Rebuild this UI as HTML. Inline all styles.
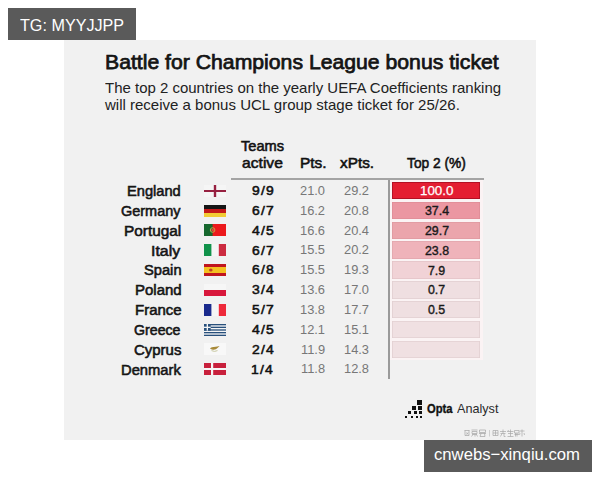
<!DOCTYPE html>
<html><head><meta charset="utf-8">
<style>
*{margin:0;padding:0;box-sizing:border-box}
html,body{width:600px;height:480px;background:#fff;overflow:hidden;font-family:"Liberation Sans",sans-serif}
.t{position:absolute;white-space:nowrap;line-height:1;transform-origin:0 0}
.box{position:absolute;background:#5a5a5a}
#photo{position:absolute;left:64px;top:40px;width:472px;height:400px;background:#f1f1f1}
.bar{position:absolute;left:392px;width:88.4px;height:17.5px;box-shadow:inset 0 0 0 0.8px rgba(60,0,10,.07)}
.flag{position:absolute;left:204px;width:22px;height:12px}
.sq{position:absolute;background:#111}
</style></head><body>
<div id="photo"></div>
<div class="box" style="left:8px;top:8px;width:128px;height:32px"></div>
<div class="box" style="left:424px;top:440px;width:168px;height:32px"></div>
<!-- rules -->
<div style="position:absolute;left:230.5px;top:178px;width:253px;height:2px;background:#a4a4a4"></div>
<div style="position:absolute;left:388px;top:180px;width:1.8px;height:199px;background:#9a9a9a"></div>
<!-- bars -->
<div style="position:absolute;left:390px;top:180px;width:93px;height:179.5px;background:#fbf3f4"></div>
<div class="bar" style="top:181.90px;background:#e41e32;box-shadow:inset 0 0 0 0.9px rgba(120,0,20,.45)"></div>
<div class="bar" style="top:201.74px;background:#eb97a2"></div>
<div class="bar" style="top:221.58px;background:#eba5ac"></div>
<div class="bar" style="top:241.42px;background:#efb3ba"></div>
<div class="bar" style="top:261.26px;background:#f1d2d6"></div>
<div class="bar" style="top:281.10px;background:#efdfe1"></div>
<div class="bar" style="top:300.94px;background:#efdfe1"></div>
<div class="bar" style="top:320.78px;background:#f0e0e2"></div>
<div class="bar" style="top:340.62px;background:#f0e0e2"></div>
<!-- flags -->
<svg class="flag" style="top:184.75px" viewBox="0 0 22 12"><rect width="22" height="12" fill="#f5f5f5"/><rect x="0" y="5" width="22" height="2" fill="#962040"/><rect x="9.8" y="0" width="2.4" height="12" fill="#962040"/></svg>
<svg class="flag" style="top:204.6px" viewBox="0 0 22 12"><rect width="22" height="4" fill="#151515"/><rect y="4" width="22" height="4" fill="#c41818"/><rect y="8" width="22" height="4" fill="#f2cc34"/></svg>
<svg class="flag" style="top:224.4px" viewBox="0 0 22 12"><rect width="22" height="12" fill="#ec1a1c"/><rect width="8.6" height="12" fill="#17682e"/><circle cx="8.6" cy="6" r="2.3" fill="none" stroke="#c8b048" stroke-width="0.9"/><circle cx="8.6" cy="6" r="1.3" fill="#d84a3a"/></svg>
<svg class="flag" style="top:244.2px" viewBox="0 0 22 12"><rect width="22" height="12" fill="#f5f5f5"/><rect width="7.4" height="12" fill="#11924a"/><rect x="14.8" width="7.2" height="12" fill="#cc2c40"/></svg>
<svg class="flag" style="top:264px" viewBox="0 0 22 12"><rect width="22" height="12" fill="#c0141e"/><rect y="3" width="22" height="6" fill="#f4c020"/><ellipse cx="6.8" cy="6" rx="1.8" ry="1.6" fill="#c04020"/></svg>
<svg class="flag" style="top:283.9px" viewBox="0 0 22 12"><rect width="22" height="6" fill="#f6f6f6"/><rect y="6" width="22" height="6" fill="#d8183c"/></svg>
<svg class="flag" style="top:303.7px" viewBox="0 0 22 12"><rect width="22" height="12" fill="#f5f5f5"/><rect width="7.4" height="12" fill="#1a2a8c"/><rect x="14.8" width="7.2" height="12" fill="#ee2a3a"/></svg>
<svg class="flag" style="top:323.5px" viewBox="0 0 22 12"><rect width="22" height="12" fill="#f5f5f5"/><g fill="#28507c"><rect y="0" width="22" height="1.33"/><rect y="2.67" width="22" height="1.33"/><rect y="5.33" width="22" height="1.33"/><rect y="8" width="22" height="1.33"/><rect y="10.67" width="22" height="1.33"/><rect width="6.67" height="6.67"/></g><rect x="2.67" width="1.33" height="6.67" fill="#f5f5f5"/><rect y="2.67" width="6.67" height="1.33" fill="#f5f5f5"/></svg>
<svg class="flag" style="top:343.3px" viewBox="0 0 22 12"><rect width="22" height="12" fill="#f8f8f8"/><path d="M6 5.6 Q6.8 3.8 9.8 4 L13.2 3.4 L15.6 3 L13.8 4.8 Q12.2 6.6 9.6 6.7 Q7 6.9 6 5.6Z" fill="#a88a3a"/><path d="M7.5 7.6 Q10.5 9.2 13.5 7.6" stroke="#c8c8a0" stroke-width="1" fill="none"/></svg>
<svg class="flag" style="top:363.1px" viewBox="0 0 22 12"><rect width="22" height="12" fill="#c8203c"/><rect x="7" width="2.2" height="12" fill="#f5f5f5"/><rect y="5" width="22" height="2" fill="#f5f5f5"/></svg>
<!-- opta logo squares -->
<div class="sq" style="left:416.9px;top:400.4px;width:4.8px;height:4.3px"></div>
<div class="sq" style="left:412.3px;top:406.3px;width:3.6px;height:3.4px"></div>
<div class="sq" style="left:418px;top:406.3px;width:3.7px;height:3.4px"></div>
<div class="sq" style="left:407.6px;top:411.4px;width:3px;height:2.9px"></div>
<div class="sq" style="left:413.8px;top:411.4px;width:3px;height:2.9px"></div>
<div class="sq" style="left:418.8px;top:411.4px;width:3px;height:2.9px"></div>
<div class="sq" style="left:404.8px;top:415.6px;width:2px;height:2px"></div>
<div class="sq" style="left:410.7px;top:415.6px;width:2px;height:2px"></div>
<div class="sq" style="left:415.9px;top:415.6px;width:2px;height:2px"></div>
<div class="sq" style="left:419.9px;top:415.6px;width:2px;height:2px"></div>
<!-- cn watermark -->
<svg style="position:absolute;left:463px;top:428px" width="62" height="10" viewBox="0 0 62 10">
<g stroke="#a4a4a4" stroke-width="0.7" fill="none">
<path d="M1.5 2.5h5M2 2.5v5h4v-5M3.5 4.5l1.5 2M5 4.5l-1.5 2"/>
<path d="M8.5 2h6M9 3.5h5v2h-5zM9 6.5h5M10 6.5l-1.5 2M12 6.5v2M13.5 6.5l1 2"/>
<path d="M16.5 2h6v2.5h-6zM16 5.5h7M18 5.5l-1 3h5l-0.5-3"/>
</g>
<path d="M26.5 2v6.5" stroke="#c0c0c0" stroke-width="0.7"/>
<g stroke="#a8a8a8" stroke-width="0.7" fill="none">
<path d="M30 2.5h5v5h-5zM30 5h5M32.5 2.5v5"/>
<path d="M37 3.5h6M40 1.5v4M37.5 5.5h5M39 5.5l-1.5 3M41 5.5v3h1.5"/>
<path d="M44.5 3.5h6M47.5 1.5v7M45 5.5h5M44.5 8.5h6M45.5 2l-1 2"/>
<path d="M51.5 2.5h4.5v2.5h-4.5zM52.5 5v3.5M51.5 6.5h4.5M54 5v3.5"/>
<path d="M56.5 3h5M59 1.5v7M57 5l-0.5 2M61 5l0.5 2"/>
</g>
</svg>
<div class="t" style="left:20.20px;top:17.05px;font-size:17px;font-weight:400;color:#fff;transform:scaleX(0.9505)">TG: MYYJJPP</div>
<div class="t" style="left:433.71px;top:447.02px;font-size:16.8px;font-weight:400;color:#fff;transform:scaleX(0.9938)">cnwebs&#8722;xinqiu.com</div>
<div class="t" style="left:105.47px;top:51.89px;font-size:20.6px;font-weight:400;color:#141414;-webkit-text-stroke:0.75px #141414;transform:scaleX(1.0296)">Battle for Champions League bonus ticket</div>
<div class="t" style="left:105.30px;top:81.38px;font-size:14.5px;font-weight:400;color:#222;transform:scaleX(1.0332)">The top 2 countries on the yearly UEFA Coefficients ranking</div>
<div class="t" style="left:105.30px;top:97.88px;font-size:14.5px;font-weight:400;color:#222;transform:scaleX(1.0351)">will receive a bonus UCL group stage ticket for 25/26.</div>
<div class="t" style="left:241.00px;top:139.04px;font-size:14.3px;font-weight:400;color:#111;-webkit-text-stroke:0.55px #111;transform:scaleX(1.0238)">Teams</div>
<div class="t" style="left:242.00px;top:155.65px;font-size:14.3px;font-weight:400;color:#111;-webkit-text-stroke:0.55px #111;transform:scaleX(1.0946)">active</div>
<div class="t" style="left:299.62px;top:156.04px;font-size:14.3px;font-weight:400;color:#111;-webkit-text-stroke:0.55px #111;transform:scaleX(1.0783)">Pts.</div>
<div class="t" style="left:340.30px;top:156.04px;font-size:14.3px;font-weight:400;color:#111;-webkit-text-stroke:0.55px #111;transform:scaleX(1.0742)">xPts.</div>
<div class="t" style="left:406.90px;top:155.65px;font-size:14.3px;font-weight:400;color:#111;-webkit-text-stroke:0.55px #111;transform:scaleX(0.9623)">Top 2 (%)</div>
<div class="t" style="left:127.35px;top:184.00px;font-size:14px;font-weight:400;color:#151515;-webkit-text-stroke:0.55px #151515;transform:scaleX(1.0460)">England</div>
<div class="t" style="left:251.60px;top:184.11px;font-size:13.4px;font-weight:400;color:#111;letter-spacing:1.2px;-webkit-text-stroke:0.55px #111;transform:scaleX(1.0381)">9/9</div>
<div class="t" style="left:300.34px;top:183.91px;font-size:13.4px;font-weight:400;color:#777;transform:scaleX(0.9600)">21.0</div>
<div class="t" style="left:344.44px;top:183.91px;font-size:13.4px;font-weight:400;color:#777;transform:scaleX(0.9600)">29.2</div>
<div class="t" style="left:419.50px;top:184.21px;font-size:13.4px;font-weight:400;color:#fff;-webkit-text-stroke:0.25px #fff;transform:scaleX(0.9969)">100.0</div>
<div class="t" style="left:120.80px;top:203.84px;font-size:14px;font-weight:400;color:#151515;-webkit-text-stroke:0.55px #151515;transform:scaleX(1.0328)">Germany</div>
<div class="t" style="left:251.60px;top:203.95px;font-size:13.4px;font-weight:400;color:#111;letter-spacing:1.2px;-webkit-text-stroke:0.55px #111;transform:scaleX(1.0381)">6/7</div>
<div class="t" style="left:300.34px;top:203.75px;font-size:13.4px;font-weight:400;color:#777;transform:scaleX(0.9600)">16.2</div>
<div class="t" style="left:344.44px;top:203.75px;font-size:13.4px;font-weight:400;color:#777;transform:scaleX(0.9600)">20.8</div>
<div class="t" style="left:424.50px;top:204.05px;font-size:13.4px;font-weight:400;color:#1a1a1a;-webkit-text-stroke:0.4px #1a1a1a;transform:scaleX(0.9231)">37.4</div>
<div class="t" style="left:123.60px;top:223.68px;font-size:14px;font-weight:400;color:#151515;-webkit-text-stroke:0.55px #151515;transform:scaleX(1.0980)">Portugal</div>
<div class="t" style="left:251.60px;top:223.79px;font-size:13.4px;font-weight:400;color:#111;letter-spacing:1.2px;-webkit-text-stroke:0.55px #111;transform:scaleX(1.0381)">4/5</div>
<div class="t" style="left:300.34px;top:223.59px;font-size:13.4px;font-weight:400;color:#777;transform:scaleX(0.9600)">16.6</div>
<div class="t" style="left:344.44px;top:223.59px;font-size:13.4px;font-weight:400;color:#777;transform:scaleX(0.9600)">20.4</div>
<div class="t" style="left:424.50px;top:223.89px;font-size:13.4px;font-weight:400;color:#1a1a1a;-webkit-text-stroke:0.4px #1a1a1a;transform:scaleX(0.9231)">29.7</div>
<div class="t" style="left:151.16px;top:243.52px;font-size:14px;font-weight:400;color:#151515;-webkit-text-stroke:0.55px #151515;transform:scaleX(1.1360)">Italy</div>
<div class="t" style="left:251.60px;top:243.63px;font-size:13.4px;font-weight:400;color:#111;letter-spacing:1.2px;-webkit-text-stroke:0.55px #111;transform:scaleX(1.0381)">6/7</div>
<div class="t" style="left:300.34px;top:243.43px;font-size:13.4px;font-weight:400;color:#777;transform:scaleX(0.9600)">15.5</div>
<div class="t" style="left:344.44px;top:243.43px;font-size:13.4px;font-weight:400;color:#777;transform:scaleX(0.9600)">20.2</div>
<div class="t" style="left:424.50px;top:243.73px;font-size:13.4px;font-weight:400;color:#1a1a1a;-webkit-text-stroke:0.4px #1a1a1a;transform:scaleX(0.9231)">23.8</div>
<div class="t" style="left:144.00px;top:263.36px;font-size:14px;font-weight:400;color:#151515;-webkit-text-stroke:0.55px #151515;transform:scaleX(1.0486)">Spain</div>
<div class="t" style="left:251.60px;top:263.47px;font-size:13.4px;font-weight:400;color:#111;letter-spacing:1.2px;-webkit-text-stroke:0.55px #111;transform:scaleX(1.0381)">6/8</div>
<div class="t" style="left:300.34px;top:263.27px;font-size:13.4px;font-weight:400;color:#777;transform:scaleX(0.9600)">15.5</div>
<div class="t" style="left:344.44px;top:263.27px;font-size:13.4px;font-weight:400;color:#777;transform:scaleX(0.9600)">19.3</div>
<div class="t" style="left:428.19px;top:263.57px;font-size:13.4px;font-weight:400;color:#1a1a1a;-webkit-text-stroke:0.4px #1a1a1a;transform:scaleX(0.9231)">7.9</div>
<div class="t" style="left:134.63px;top:283.20px;font-size:14px;font-weight:400;color:#151515;-webkit-text-stroke:0.55px #151515;transform:scaleX(1.0714)">Poland</div>
<div class="t" style="left:251.60px;top:283.31px;font-size:13.4px;font-weight:400;color:#111;letter-spacing:1.2px;-webkit-text-stroke:0.55px #111;transform:scaleX(1.0381)">3/4</div>
<div class="t" style="left:300.34px;top:283.11px;font-size:13.4px;font-weight:400;color:#777;transform:scaleX(0.9600)">13.6</div>
<div class="t" style="left:344.44px;top:283.11px;font-size:13.4px;font-weight:400;color:#777;transform:scaleX(0.9600)">17.0</div>
<div class="t" style="left:427.73px;top:283.41px;font-size:13.4px;font-weight:400;color:#1a1a1a;-webkit-text-stroke:0.4px #1a1a1a;transform:scaleX(0.9231)">0.7</div>
<div class="t" style="left:134.63px;top:303.04px;font-size:14px;font-weight:400;color:#151515;-webkit-text-stroke:0.55px #151515;transform:scaleX(1.0714)">France</div>
<div class="t" style="left:251.60px;top:303.15px;font-size:13.4px;font-weight:400;color:#111;letter-spacing:1.2px;-webkit-text-stroke:0.55px #111;transform:scaleX(1.0381)">5/7</div>
<div class="t" style="left:300.34px;top:302.95px;font-size:13.4px;font-weight:400;color:#777;transform:scaleX(0.9600)">13.8</div>
<div class="t" style="left:344.44px;top:302.95px;font-size:13.4px;font-weight:400;color:#777;transform:scaleX(0.9600)">17.7</div>
<div class="t" style="left:427.73px;top:303.25px;font-size:13.4px;font-weight:400;color:#1a1a1a;-webkit-text-stroke:0.4px #1a1a1a;transform:scaleX(0.9231)">0.5</div>
<div class="t" style="left:134.10px;top:322.88px;font-size:14px;font-weight:400;color:#151515;-webkit-text-stroke:0.55px #151515;transform:scaleX(1.0130)">Greece</div>
<div class="t" style="left:251.60px;top:322.99px;font-size:13.4px;font-weight:400;color:#111;letter-spacing:1.2px;-webkit-text-stroke:0.55px #111;transform:scaleX(1.0381)">4/5</div>
<div class="t" style="left:300.34px;top:322.79px;font-size:13.4px;font-weight:400;color:#777;transform:scaleX(0.9600)">12.1</div>
<div class="t" style="left:344.44px;top:322.79px;font-size:13.4px;font-weight:400;color:#777;transform:scaleX(0.9600)">15.1</div>
<div class="t" style="left:133.70px;top:342.72px;font-size:14px;font-weight:400;color:#151515;-webkit-text-stroke:0.55px #151515;transform:scaleX(1.0682)">Cyprus</div>
<div class="t" style="left:251.60px;top:342.83px;font-size:13.4px;font-weight:400;color:#111;letter-spacing:1.2px;-webkit-text-stroke:0.55px #111;transform:scaleX(1.0381)">2/4</div>
<div class="t" style="left:300.82px;top:342.63px;font-size:13.4px;font-weight:400;color:#777;transform:scaleX(0.9600)">11.9</div>
<div class="t" style="left:344.44px;top:342.63px;font-size:13.4px;font-weight:400;color:#777;transform:scaleX(0.9600)">14.3</div>
<div class="t" style="left:120.65px;top:362.56px;font-size:14px;font-weight:400;color:#151515;-webkit-text-stroke:0.55px #151515;transform:scaleX(1.0536)">Denmark</div>
<div class="t" style="left:251.08px;top:362.67px;font-size:13.4px;font-weight:400;color:#111;letter-spacing:1.2px;-webkit-text-stroke:0.55px #111;transform:scaleX(1.0381)">1/4</div>
<div class="t" style="left:300.82px;top:362.47px;font-size:13.4px;font-weight:400;color:#777;transform:scaleX(0.9600)">11.8</div>
<div class="t" style="left:344.44px;top:362.47px;font-size:13.4px;font-weight:400;color:#777;transform:scaleX(0.9600)">12.8</div>
<div class="t" style="left:427.10px;top:402.15px;font-size:13px;font-weight:700;color:#111;-webkit-text-stroke:0.35px #111;transform:scaleX(0.8600)">Opta</div>
<div class="t" style="left:456.80px;top:402.15px;font-size:13px;font-weight:400;color:#2a2a2a;transform:scaleX(0.9721)">Analyst</div>
</body></html>
